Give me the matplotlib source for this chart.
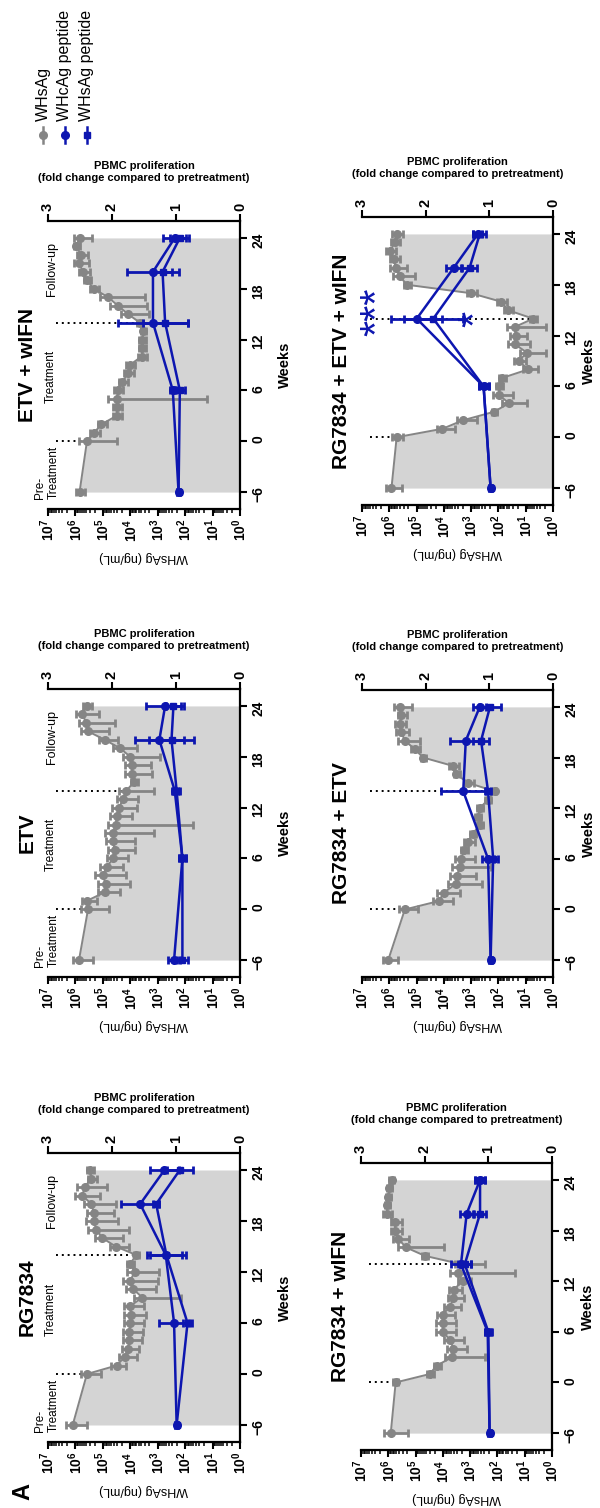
import numpy as np
import matplotlib
matplotlib.use('Agg')
import matplotlib.pyplot as plt
from matplotlib.ticker import FixedLocator, FuncFormatter, LogLocator, NullFormatter

plt.rcParams['font.family'] = ['Liberation Sans', 'DejaVu Sans']
plt.rcParams['mathtext.fontset'] = 'custom'
plt.rcParams['mathtext.rm'] = 'Liberation Sans:bold'
plt.rcParams['mathtext.bf'] = 'Liberation Sans:bold'

GRAY = '#858585'
FILL = '#d4d4d4'
BLUE = '#0d16b0'

# weeks of WHsAg sampling and of PBMC proliferation assays
weeks = [-6, 0, 1, 2, 3, 4, 5, 6, 7, 8, 9, 10, 11, 12, 13, 14, 15, 16, 17, 18, 19, 20, 21, 22, 23, 24]
pbmc_weeks = [-6, 6, 14, 20, 24]
week_ticks = [-6, 0, 6, 12, 18, 24]

# WHsAg as log10(ng/mL), error = length of the lower bar in decades
rg_whsag = [6.1, 5.58, 4.5, 4.2, 4.08, 4.04, 4.04, 4.0, 3.98, 4.0, 3.56, 3.9, 4.0, 3.84, 4.0, 3.78,
            4.53, 5.02, 5.24, 5.33, 5.33, 5.42, 5.75, 5.66, 5.42, 5.48]
rg_whsag_err = [0.54, 0.5, 0.35, 0.45, 0.4, 0.45, 0.5, 0.5, 0.55, 0.5, 1.4, 0.85, 1.0, 0.9, 0.15, 0.1,
                0.5, 0.75, 1.2, 0.9, 0.75, 0.9, 0.65, 0.8, 0.2, 0.15]
etv_whsag = [5.87, 5.54, 5.58, 4.93, 4.9, 5.0, 4.85, 4.63, 4.57, 4.63, 4.63, 4.53, 4.5, 4.41, 4.26, 4.14,
             3.87, 3.95, 3.95, 4.0, 4.37, 4.93, 5.54, 5.6, 5.75, 5.58]
etv_whsag_err = [0.5, 0.75, 0.35, 0.55, 0.9, 0.85, 0.6, 0.55, 0.75, 0.8, 1.5, 2.8, 0.55, 0.65, 0.55, 1.0,
                 0.15, 0.75, 0.7, 1.1, 0.6, 0.5, 0.75, 1.05, 0.6, 0.2]
etv_ifn_whsag = [5.85, 5.58, 5.32, 5.05, 4.5, 4.5, 4.5, 4.45, 4.29, 4.08, 4.02, 3.59, 3.56, 3.56, 3.53, 3.65,
                 4.08, 4.45, 4.81, 5.33, 5.58, 5.72, 5.87, 5.79, 5.97, 5.85]
etv_ifn_whsag_err = [0.2, 1.1, 0.2, 0.2, 0.2, 0.2, 3.3, 0.2, 0.2, 0.2, 0.2, 0.2, 0.15, 0.15, 0.12, 0.12,
                     0.75, 1.05, 1.35, 0.2, 0.15, 0.25, 0.35, 0.25, 0.12, 0.45]
rg_ifn_whsag = [5.91, 5.73, 4.48, 4.23, 3.65, 3.62, 3.72, 4.01, 4.01, 4.01, 3.74, 3.62, 3.6, 3.28, 3.44, 3.3,
                4.66, 5.35, 5.63, 5.76, 5.76, 6.06, 6.04, 6.0, 5.96, 5.88]
rg_ifn_whsag_err = [0.65, 0.1, 0.15, 0.15, 1.2, 0.5, 0.5, 0.5, 0.5, 0.45, 0.4, 0.4, 0.3, 0.3, 2.1, 0.85,
                    0.12, 1.4, 0.4, 0.25, 0.25, 0.2, 0.1, 0.1, 0.1, 0.1]
rg_etv_whsag = [6.04, 5.43, 4.18, 4.0, 3.57, 3.52, 3.42, 3.36, 3.27, 3.11, 2.93, 2.69, 2.75, 2.69, 2.38, 2.14,
                3.11, 3.54, 3.66, 4.76, 5.07, 5.43, 5.56, 5.62, 5.56, 5.62]
rg_etv_whsag_err = [0.35, 0.5, 0.5, 0.6, 0.95, 0.7, 1.15, 0.5, 0.15, 0.25, 0.12, 0.12, 0.12, 0.12, 0.12, 0.06,
                    0.2, 0.12, 0.2, 0.12, 0.2, 0.55, 0.3, 0.25, 0.2, 0.45]
rg_etv_ifn_whsag = [5.92, 5.73, 4.05, 3.3, 2.17, 1.61, 1.98, 1.98, 1.86, 0.92, 1.25, 0.96, 1.41, 1.37, 1.41, 0.73,
                    1.65, 1.9, 3.0, 5.35, 5.62, 5.76, 5.84, 5.96, 5.8, 5.73]
rg_etv_ifn_whsag_err = [0.37, 0.25, 0.45, 0.5, 0.1, 0.65, 0.5, 0.15, 0.15, 0.37, 0.27, 0.7, 0.55, 0.4, 1.15, 0.15,
                        0.2, 0.2, 0.2, 0.15, 0.55, 0.4, 0.22, 0.22, 0.2, 0.25]

# PBMC proliferation, fold change (WHcAg peptide = hc, WHsAg peptide = hs)
rg_hc = [0.99, 1.03, 1.16, 1.56, 1.18]
rg_hc_err = [0.02, 0.23, 0.25, 0.3, 0.22]
rg_hs = [0.99, 0.82, 1.15, 1.31, 0.94]
rg_hs_err = [0.02, 0.07, 0.3, 0.05, 0.2]
etv_hc = [1.03, 0.9, 1.02, 1.26, 1.17]
etv_hc_err = [0.1, 0.05, 0.05, 0.38, 0.3]
etv_hs = [0.9, 0.9, 0.99, 1.07, 1.04]
etv_hs_err = [0.08, 0.05, 0.05, 0.35, 0.12]
etv_ifn_hc = [0.96, 1.05, 1.36, 1.36, 1.02]
etv_ifn_hc_err = [0.03, 0.05, 0.55, 0.4, 0.18]
etv_ifn_hs = [0.96, 0.94, 1.17, 1.21, 0.94]
etv_ifn_hs_err = [0.03, 0.08, 0.35, 0.15, 0.15]
rg_ifn_hc = [0.98, 1.01, 1.43, 1.34, 1.13]
rg_ifn_hc_err = [0.02, 0.05, 0.15, 0.1, 0.08]
rg_ifn_hs = [0.98, 1.0, 1.37, 1.13, 1.13]
rg_ifn_hs_err = [0.02, 0.05, 0.1, 0.1, 0.08]
rg_etv_hc = [0.98, 1.02, 1.41, 1.37, 1.15]
rg_etv_hc_err = [0.02, 0.1, 0.35, 0.25, 0.1]
rg_etv_hs = [0.98, 0.94, 1.02, 1.13, 0.99]
rg_etv_hs_err = [0.02, 0.08, 0.05, 0.12, 0.17]
rg_etv_ifn_hc = [0.98, 1.09, 2.14, 1.56, 1.18]
rg_etv_ifn_hc_err = [0.02, 0.08, 0.4, 0.12, 0.07]
rg_etv_ifn_hs = [0.98, 1.09, 1.88, 1.31, 1.15]
rg_etv_ifn_hs_err = [0.02, 0.08, 0.46, 0.12, 0.1]

legend_labels = ['WHsAg', 'WHcAg peptide', 'WHsAg peptide']

W, H = 600, 1508
fig = plt.figure(figsize=(W / 100, H / 100), dpi=100)


def px_rect(left, top, right, bottom):
    return [left / W, 1 - bottom / H, (right - left) / W, (bottom - top) / H]


def log_fmt(v, pos):
    return r'$\mathbf{10^{%d}}$' % int(round(np.log10(v)))


def draw_panel(rect, title, whs, whs_err, hc, hc_err, hs, hs_err, phases=False, stars=False,
               weeks_pad=9):
    ax = fig.add_axes(rect)
    vals = 10 ** np.array(whs)
    sem = vals * (1 - 10 ** -np.array(whs_err))
    ax.fill_betweenx(weeks, vals, 1, color=FILL, lw=0, zorder=1)
    ax.errorbar(vals, weeks, xerr=sem, color=GRAY, marker='o', ms=5.5, lw=1.4,
                elinewidth=2.0, capsize=3, capthick=2.0, zorder=3)
    for w in (0, 14):
        ax.plot([10 ** 6.7, vals[weeks.index(w)]], [w, w], color='black',
                ls=(0, (1, 2)), lw=1.4, zorder=2)

    ax.set_xscale('log')
    ax.set_xlim(1e7, 1e0)
    ax.set_ylim(-8, 26)
    ax.xaxis.set_major_locator(FixedLocator([10.0 ** k for k in range(8)]))
    ax.xaxis.set_major_formatter(FuncFormatter(log_fmt))
    ax.xaxis.set_minor_locator(LogLocator(base=10, subs=np.arange(2, 10), numticks=20))
    ax.xaxis.set_minor_formatter(NullFormatter())
    ax.yaxis.tick_right()
    ax.yaxis.set_label_position('right')
    ax.set_yticks(week_ticks)
    ax.set_yticklabels([str(w).replace('-', '\u2212') for w in week_ticks], fontweight='bold')
    ax.tick_params(axis='x', which='major', length=5, width=1.5, labelsize=10, labelrotation=90, pad=2)
    ax.tick_params(axis='x', which='minor', length=3, width=1.1)
    ax.tick_params(axis='y', length=5, width=1.5, labelsize=10, labelrotation=90, pad=3)
    for s in ('left', 'top'):
        ax.spines[s].set_visible(False)
    for s in ('bottom', 'right'):
        ax.spines[s].set_linewidth(1.6)
    ax.set_xlabel('WHsAg (ng/mL)', rotation=180, fontsize=9, labelpad=7)
    ax.set_ylabel('Weeks', rotation=90, fontsize=10.5, fontweight='bold', labelpad=weeks_pad)

    ax2 = ax.twiny()
    ax2.errorbar(hc, pbmc_weeks, xerr=hc_err, color=BLUE, marker='o', ms=5.5, lw=1.8,
                 elinewidth=2.0, capsize=3, capthick=2.0, zorder=4)
    ax2.errorbar(hs, pbmc_weeks, xerr=hs_err, color=BLUE, marker='s', ms=4.5, lw=1.8,
                 elinewidth=2.0, capsize=3, capthick=2.0, zorder=4)
    ax2.set_xlim(3, 0)
    ax2.set_xticks([3, 2, 1, 0])
    ax2.set_xticklabels(['3', '2', '1', '0'], fontweight='bold')
    ax2.tick_params(axis='x', length=5, width=1.5, labelsize=10.5, labelrotation=90, pad=2)
    for s in ('left', 'bottom', 'right'):
        ax2.spines[s].set_visible(False)
    ax2.spines['top'].set_linewidth(1.6)
    ax2.set_xlabel('PBMC proliferation\n(fold change compared to pretreatment)',
                   fontsize=8, fontweight='bold', labelpad=16)

    ax.annotate(title, xy=(0, 0.5), xycoords='axes fraction', xytext=(-15, 0),
                textcoords='offset points', rotation=90, ha='center', va='center',
                fontsize=15, fontweight='bold')

    if phases:
        ax.text(10 ** 7.05, -3.7, 'Pre-\nTreatment', rotation=90, ha='center', va='center',
                multialignment='left', fontsize=8.5, clip_on=False, zorder=5)
        ax.text(10 ** 6.9, 7.6, 'Treatment', rotation=90, ha='center', va='center',
                fontsize=8.5, zorder=5)
        ax.text(10 ** 6.85, 20.3, 'Follow-up', rotation=90, ha='center', va='center',
                fontsize=9, zorder=5)
    if stars:
        ax2.text(2.75, 14.8, '***', rotation=90, ha='center', va='center',
                 fontsize=30, color=BLUE, zorder=6)
        ax2.text(1.2, 14.0, '*', rotation=90, ha='center', va='center',
                 fontsize=30, color=BLUE, zorder=6)
    return ax


draw_panel(px_rect(48, 1153, 240, 1442), 'RG7834', rg_whsag, rg_whsag_err,
           rg_hc, rg_hc_err, rg_hs, rg_hs_err, phases=True)
draw_panel(px_rect(48, 689, 240, 977), 'ETV', etv_whsag, etv_whsag_err,
           etv_hc, etv_hc_err, etv_hs, etv_hs_err, phases=True)
draw_panel(px_rect(48, 221, 240, 509), 'ETV + wIFN', etv_ifn_whsag, etv_ifn_whsag_err,
           etv_ifn_hc, etv_ifn_hc_err, etv_ifn_hs, etv_ifn_hs_err, phases=True)
draw_panel(px_rect(361, 1163, 552, 1450), 'RG7834 + wIFN', rg_ifn_whsag, rg_ifn_whsag_err,
           rg_ifn_hc, rg_ifn_hc_err, rg_ifn_hs, rg_ifn_hs_err, weeks_pad=3)
draw_panel(px_rect(362, 690, 553, 977), 'RG7834 + ETV', rg_etv_whsag, rg_etv_whsag_err,
           rg_etv_hc, rg_etv_hc_err, rg_etv_hs, rg_etv_hs_err, weeks_pad=3)
draw_panel(px_rect(362, 217, 553, 505), 'RG7834 + ETV + wIFN', rg_etv_ifn_whsag, rg_etv_ifn_whsag_err,
           rg_etv_ifn_hc, rg_etv_ifn_hc_err, rg_etv_ifn_hs, rg_etv_ifn_hs_err, stars=True, weeks_pad=3)

# legend, drawn by hand in pixel coordinates (rotated layout)
lg = fig.add_axes([0, 1 - 160 / H, 120 / W, 160 / H])
lg.set_xlim(0, 120)
lg.set_ylim(160, 0)
lg.axis('off')
for x, label, color, marker, ms in zip([43, 65, 87], legend_labels, [GRAY, BLUE, BLUE],
                                       ['o', 'o', 's'], [5.5, 5.5, 4.5]):
    lg.plot([x, x], [127, 143], color=color, lw=1.8)
    lg.plot([x], [135], color=color, marker=marker, ms=ms)
    lg.text(x, 121, label, rotation=90, ha='center', va='bottom', fontsize=11.5)

fig.text(23 / W, 1 - 1492 / H, 'A', rotation=90, ha='center', va='center',
         fontsize=17, fontweight='bold')

fig.savefig('out.png', dpi=100)
